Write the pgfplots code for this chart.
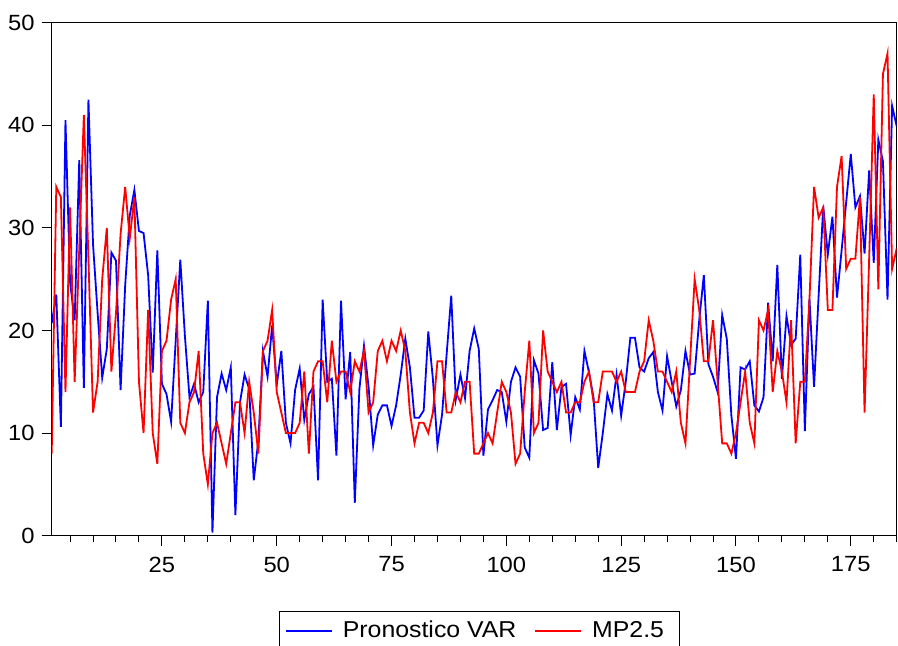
\documentclass[border=0pt]{standalone}
\usepackage{fontspec}
\setmainfont{Liberation Sans}[FakeStretch=1.08]
\usepackage{pgfplots}
\usepackage{pgfplotstable}
\pgfplotsset{compat=1.18}
\pgfplotstableread{
t var mp
1 20.7 8
2 23.5 34
3 10.6 33
4 40.5 14
5 24.7 32
6 21.0 15
7 36.6 28
8 14.4 41
9 42.5 27
10 28.4 12
11 21.7 15
12 15.4 25
13 18.2 30
14 27.6 16
15 26.8 21.7
16 14.2 29.4
17 24.4 34
18 31.2 29
19 33.7 33
20 29.7 15
21 29.5 10
22 25.4 22
23 15.9 10
24 27.8 7
25 14.8 18
26 13.8 19
27 11.1 23
28 19.0 25
29 26.9 11
30 19.5 10
31 13.5 13
32 14.8 14
33 13.0 18
34 14.0 8
35 22.9 5
36 0.3 10
37 13.5 11
38 15.8 9
39 14.2 7
40 16.4 10
41 2.0 13
42 13.0 13
43 15.7 10
44 14.3 15
45 5.4 12
46 9.3 8
47 18.0 18
48 15.5 19
49 20.5 22
50 14.7 14
51 18.0 12
52 11.0 10
53 9.0 10
54 14.2 10
55 16.3 11
56 11.3 16
57 13.8 8
58 14.5 16
59 5.4 17
60 23.0 17
61 15.0 13
62 15.3 19
63 7.8 15
64 22.9 16
65 13.3 16
66 17.9 14
67 3.2 17
68 14.3 16
69 18.5 18
70 14.5 12
71 8.8 13
72 11.8 18
73 12.7 19
74 12.7 17
75 10.7 19
76 12.7 18
77 15.7 20
78 19.2 18
79 16.4 12
80 11.5 9
81 11.5 11
82 12.2 11
83 19.9 10
84 15.3 12
85 8.8 17
86 11.8 17
87 17.7 12
88 23.4 12
89 13.3 14
90 15.7 13
91 13.4 15
92 18.0 15
93 20.2 8
94 18.2 8
95 7.8 9
96 12.3 10
97 13.2 9
98 14.2 12
99 14.0 15
100 11.1 14
101 15.0 12
102 16.4 7
103 15.5 8
104 8.6 14
105 7.6 19
106 17.1 10
107 15.8 11
108 10.3 20
109 10.5 16
110 16.9 15
111 10.3 14
112 14.5 15
113 14.8 12
114 9.8 12
115 13.5 13
116 12.3 13
117 18.0 15
118 15.9 16
119 13.4 13
120 6.6 13
121 10.0 16
122 13.8 16
123 12.2 16
124 15.7 15
125 11.7 16
126 15.0 14
127 19.3 14
128 19.3 14
129 16.4 16
130 16.0 17
131 17.3 21
132 17.9 19
133 14.0 16
134 12.2 16
135 17.5 15
136 15.0 14
137 12.6 16
138 14.2 11
139 18.0 9
140 15.7 17
141 15.8 25
142 21.0 22
143 25.4 17
144 16.7 17
145 15.5 21
146 14.0 15
147 21.5 9
148 19.2 9
149 11.7 8
150 7.5 10
151 16.4 13
152 16.2 16
153 17.0 11
154 12.7 9
155 12.1 21
156 13.5 20
157 22.7 22
158 17.0 14
159 26.4 18
160 15.3 16
161 21.4 13
162 18.6 21
163 19.2 9
164 27.4 15
165 10.2 15
166 23.1 23
167 14.5 34
168 23.4 31
169 32.1 32
170 27.4 22
171 31.1 22
172 23.2 34
173 27.8 37
174 32.5 26
175 37.2 27
176 32.0 27
177 33.1 33
178 27.5 12
179 35.6 27
180 26.6 43
181 38.6 24
182 36.5 45
183 23.0 47
184 41.9 26
185 39.9 28
}\datatable
\begin{document}
\begin{tikzpicture}
\begin{axis}[
  scale only axis,
  width=422.5pt, height=256.5pt,
  xmin=1, xmax=185, ymin=0, ymax=50,
  axis line style={line width=0.6pt},
  xtick={25,50,...,175},
  minor xtick={5,10,...,185},
  ytick={0,10,...,50},
  tick align=outside,
  xtick pos=bottom, ytick pos=left,
  major tick length=5pt, minor tick length=3pt,
  tick style={black, line width=0.5pt},
  /pgf/number format/assume math mode=true,
  ticklabel style={font=\fontsize{11}{13}\selectfont},
  xticklabel style={yshift=-2pt},
  legend columns=2,
  legend style={at={(0.5063,-0.1462)}, anchor=north, draw=black, line width=0.5pt,
    font=\fontsize{11.5}{13.5}\selectfont, inner xsep=3pt, inner ysep=3pt,
    nodes={inner xsep=5pt},
    /tikz/every even column/.append style={column sep=4pt}},
  legend image code/.code={\draw[#1, line width=0.9pt] (0pt,0pt) -- (23pt,0pt);},
]
\addplot[blue, line width=0.9pt] table[x=t, y=var] {\datatable};
\addlegendentry{Pronostico VAR}
\addplot[red, line width=0.9pt] table[x=t, y=mp] {\datatable};
\addlegendentry{MP2.5}
\end{axis}
\pgfresetboundingbox
\useasboundingbox (-25.85pt,-55pt) rectangle (423.15pt,267.85pt);
\end{tikzpicture}
\end{document}
